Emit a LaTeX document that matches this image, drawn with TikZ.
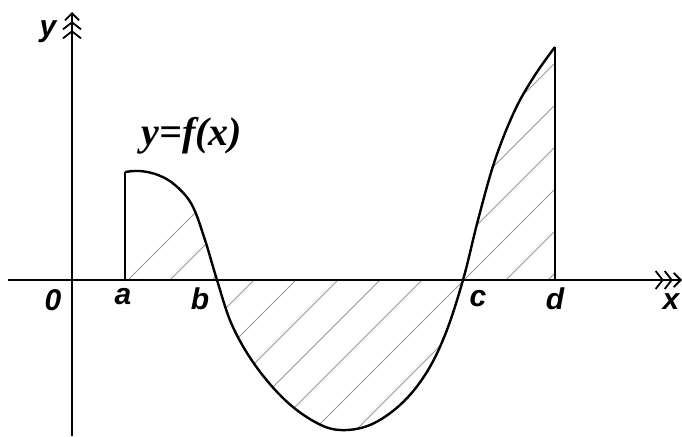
\documentclass[tikz,border=0pt]{standalone}
\usepackage{fontspec}
\setmainfont{Liberation Serif}
\setsansfont{Liberation Sans}
\usetikzlibrary{arrows.meta}
\begin{document}
\begin{tikzpicture}[x=1pt,y=-1pt,
  axis/.style={line width=2pt},
  curve/.style={line width=2.4pt},
  hatch/.style={gray!80,line width=0.8pt},
  lbl/.style={font=\fontsize{30}{30}\sffamily\itshape\bfseries, inner sep=0pt},
  tip/.style={-{Straight Barb[length=7pt,width=18pt,line width=1.8pt]Straight Barb[length=7pt,width=18pt,line width=1.8pt]Straight Barb[length=7pt,width=14pt,line width=1.8pt]}}]
\useasboundingbox (0,0) rectangle (682,436);
% hatching
\begin{scope}
\clip (125,280) -- (125,172) -- plot[smooth,tension=0.6] coordinates{(125,172) (140,171) (158,175) (175,185) (192,205) (205,240) (217,280) (232,325) (255,365) (285,400) (315,422) (340,430) (370,425) (400,405) (425,375) (445,335) (463,280) (478,220) (495,160) (515,110) (535,75) (555,47)} -- (555,280) -- cycle;
\foreach \s in {128,170,...,560}{
  \draw[hatch] (\s-200,480) -- (\s+300,-20);
}
\end{scope}
% axes
\coordinate (xs) at (8,280);
\coordinate (xe) at (682,280);
\coordinate (ys) at (72,436);
\coordinate (ye) at (72,12);
\draw[axis,tip] (xs) -- (xe);
\draw[axis,tip] (ys) -- (ye);
% curve
\coordinate (A0) at (125,280);
\coordinate (A1) at (125,172);
\coordinate (D0) at (555,280);
\coordinate (D1) at (555,47);
\draw[axis] (A0) -- (A1);
\draw[axis] (D0) -- (D1);
\draw[curve] plot[smooth,tension=0.6] coordinates{(125,172) (140,171) (158,175) (175,185) (192,205) (205,240) (217,280) (232,325) (255,365) (285,400) (315,422) (340,430) (370,425) (400,405) (425,375) (445,335) (463,280) (478,220) (495,160) (515,110) (535,75) (555,47)};
% labels
\node[lbl] (ly) at (48,32) {y};
\node[lbl] (l0) at (53,300) {0};
\node[lbl] (la) at (123,297) {a};
\node[lbl] (lb) at (200,299) {b};
\node[lbl] (lc) at (478,299) {c};
\node[lbl] (ld) at (555,299) {d};
\node[lbl] (lx) at (671,302) {x};
\node[font=\fontsize{40}{40}\selectfont\itshape\bfseries, inner sep=0pt] (lf) at (192,136) {y=f(x)};
\end{tikzpicture}
\end{document}
